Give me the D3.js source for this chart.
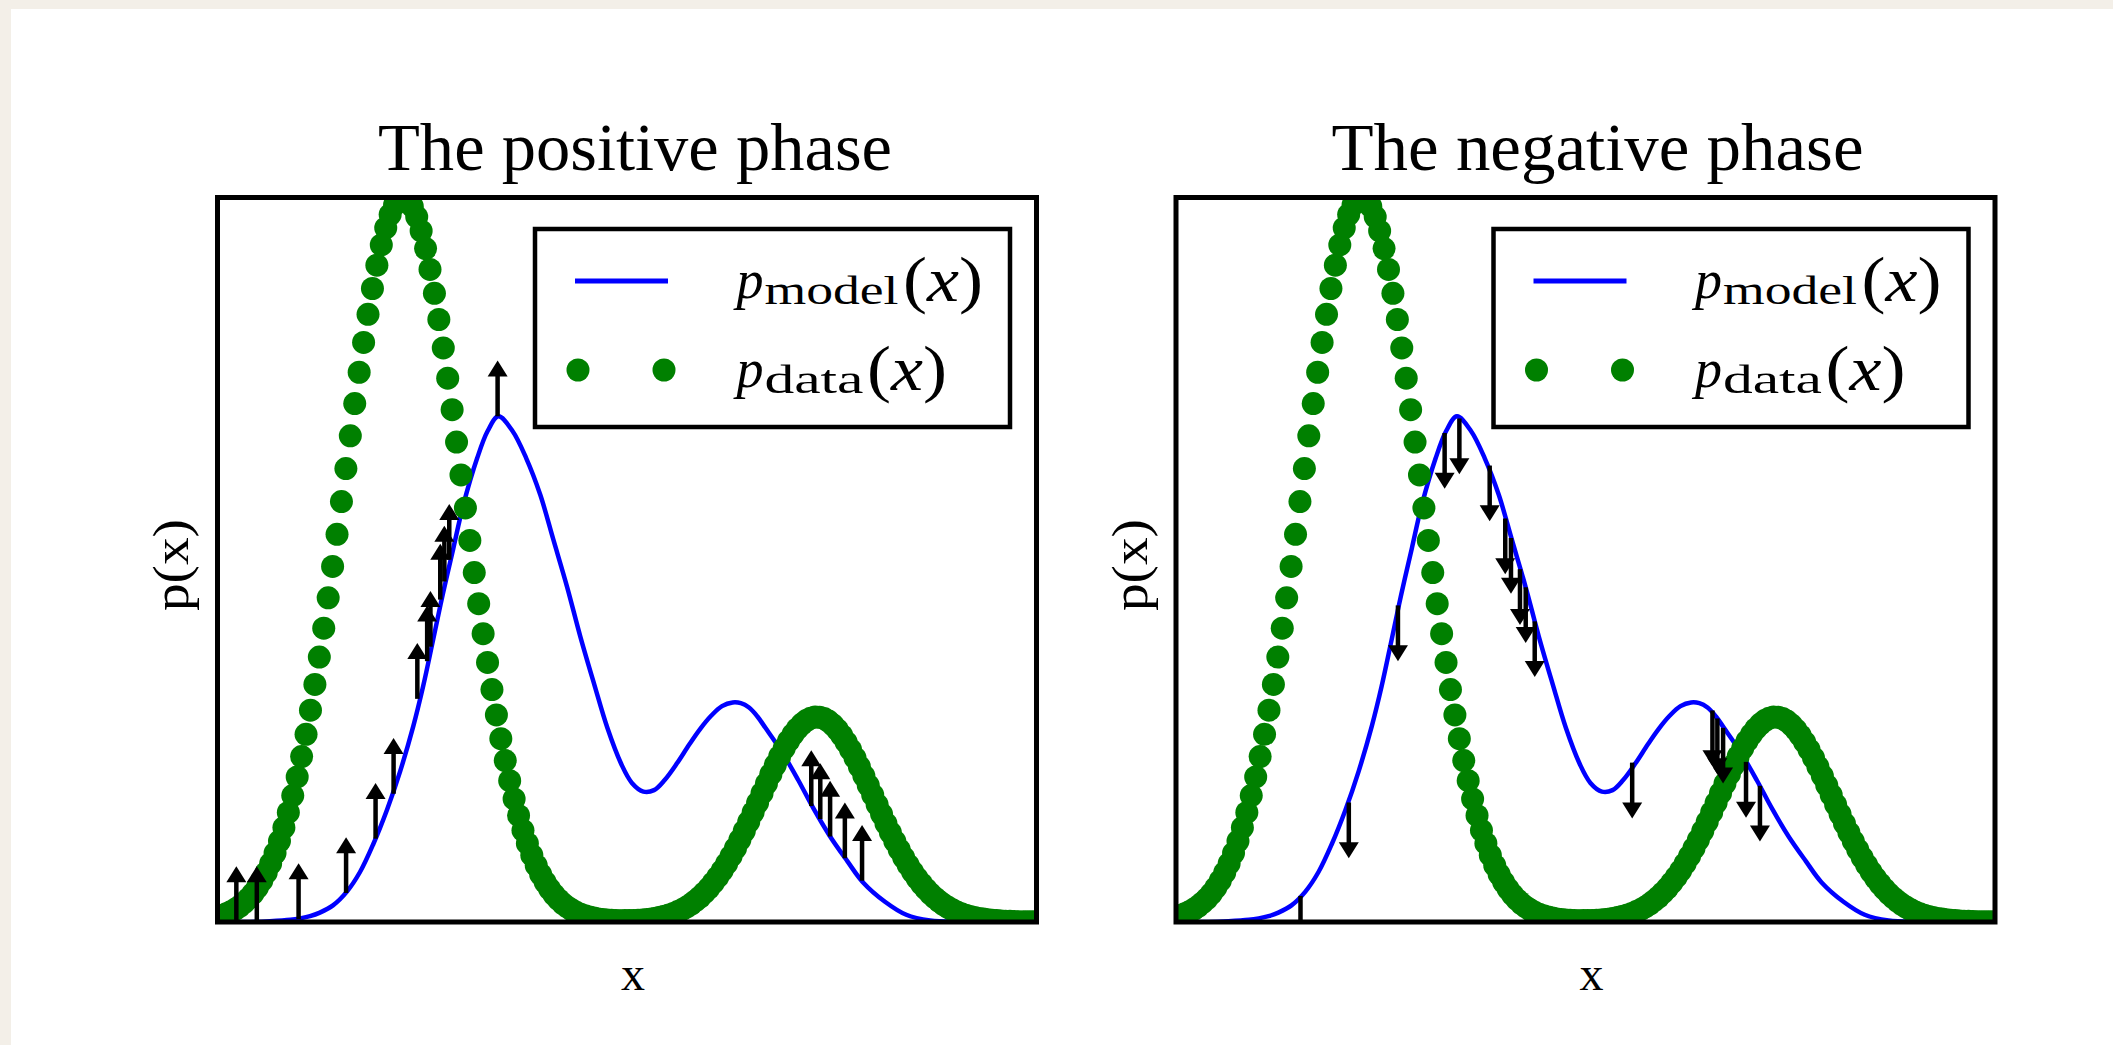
<!DOCTYPE html>
<html><head><meta charset="utf-8">
<script src="https://cdn.jsdelivr.net/npm/d3@7"></script>
<style>
html,body{margin:0;padding:0;background:#f3efe8;}
svg{display:block}
text{font-family:"Liberation Serif","Times New Roman",serif;fill:#000;}
</style></head><body>
<svg id="chart" width="2113" height="1045"></svg>
<script>
// ---------- data ----------
const titles = ["The positive phase", "The negative phase"];
const xLabel = "x";
const yLabel = "p(x)";
const legendSubs = ["model", "data"];
const xMin = 0, xMax = 10;

// p_data(x) sampled on a uniform grid over [xMin, xMax] (green dots)
const pData = [
0.0071,0.0090,0.0113,0.0141,0.0175,0.0216,0.0266,0.0324,0.0393,0.0475,
0.0570,0.0680,0.0807,0.0952,0.1117,0.1304,0.1512,0.1745,0.2002,0.2284,
0.2591,0.2923,0.3279,0.3657,0.4056,0.4474,0.4907,0.5351,0.5803,0.6258,
0.6711,0.7156,0.7588,0.8000,0.8387,0.8744,0.9066,0.9345,0.9580,0.9765,
0.9898,0.9977,1.0000,0.9966,0.9877,0.9734,0.9539,0.9295,0.9007,0.8678,
0.8316,0.7923,0.7506,0.7072,0.6625,0.6171,0.5716,0.5266,0.4823,0.4393,
0.3979,0.3583,0.3209,0.2858,0.2530,0.2228,0.1951,0.1699,0.1471,0.1266,
0.1084,0.0923,0.0781,0.0658,0.0551,0.0458,0.0379,0.0312,0.0255,0.0208,
0.0168,0.0135,0.0108,0.0086,0.0068,0.0054,0.0042,0.0033,0.0028,0.0023,
0.0021,0.0018,0.0019,0.0019,0.0021,0.0024,0.0028,0.0034,0.0042,0.0052,
0.0064,0.0080,0.0098,0.0119,0.0144,0.0174,0.0208,0.0248,0.0294,0.0345,
0.0404,0.0469,0.0542,0.0622,0.0710,0.0805,0.0908,0.1018,0.1134,0.1256,
0.1383,0.1513,0.1645,0.1778,0.1911,0.2041,0.2167,0.2286,0.2398,0.2500,
0.2591,0.2669,0.2732,0.2781,0.2813,0.2829,0.2827,0.2809,0.2773,0.2722,
0.2656,0.2575,0.2482,0.2379,0.2265,0.2144,0.2018,0.1887,0.1754,0.1621,
0.1489,0.1359,0.1234,0.1113,0.0998,0.0889,0.0788,0.0693,0.0607,0.0528,
0.0457,0.0393,0.0335,0.0285,0.0240,0.0202,0.0168,0.0139,0.0115,0.0094,
0.0077,0.0062,0.0050,0.0040,0.0032,0.0025,0.0020,0.0015,0.0012,0.0009,
0.0007,0.0005,0.0004,0.0003,0.0002,0.0002
];

// p_model(x) (blue line)
const modelX = [0,0.40,0.64,0.89,1.01,1.13,1.25,1.41,1.58,1.74,1.90,2.07,2.23,2.39,2.51,2.63,2.75,
  2.88,3.00,3.17,3.30,3.43,3.60,3.77,3.94,4.10,4.27,4.43,4.60,4.76,4.93,5.06,5.20,5.33,5.46,
  5.61,5.76,5.89,6.03,6.16,6.29,6.39,6.49,6.59,6.69,6.89,7.09,7.28,7.48,7.69,7.88,8.15,8.41,8.70,9.07,10];
const pModel = [0,0,0.001,0.003,0.005,0.008,0.013,0.023,0.042,0.069,0.107,0.155,0.208,0.270,0.325,0.388,0.452,
  0.516,0.575,0.640,0.678,0.698,0.678,0.640,0.590,0.528,0.462,0.394,0.328,0.268,0.218,0.192,0.180,0.182,0.196,
  0.219,0.245,0.266,0.285,0.298,0.303,0.302,0.296,0.284,0.268,0.235,0.196,0.156,0.118,0.084,0.055,0.028,0.010,0.002,0,0];

// positive phase: samples from data, pushed up
const posArrowX = [0.23,0.48,0.99,1.57,1.93,2.15,2.44,2.56,2.60,2.72,2.77,2.83,3.42,7.25,7.36,7.48,7.66,7.87];
const posArrowBase = [0,0,0.004,0.040,0.115,0.177,0.308,0.360,0.380,0.445,0.470,0.500,0.698,0.160,0.142,0.118,0.088,0.057];
// negative phase: samples from model, pushed down
const negArrowX = [1.52,2.11,2.71,3.28,3.46,3.83,4.02,4.09,4.20,4.27,4.38,5.57,6.55,6.61,6.68,6.96,7.13];
const negArrowBase = [0.036,0.165,0.437,0.675,0.695,0.630,0.557,0.530,0.487,0.462,0.415,0.220,0.292,0.281,0.268,0.221,0.188];
const arrowLength = 0.077;

// ---------- drawing ----------
const svg = d3.select("#chart");
svg.append("rect").attr("x",11).attr("y",9).attr("width",2102).attr("height",1036).attr("fill","#ffffff");

const W = 819, plotTop = 197.5, plotBottom = 922;
const gridX = d3.range(pData.length).map(i => xMin + i*(xMax-xMin)/(pData.length-1));
const defs = svg.append("defs");
const dotR = 11.5;

const panels = [
  {left:217.5, title:titles[0], titleX:378, titleLen:514, ax:posArrowX, ab:posArrowBase, dir:1, yLabX:188, xLabX:633},
  {left:1176, title:titles[1], titleX:1331.5, titleLen:532, ax:negArrowX, ab:negArrowBase, dir:-1, yLabX:1147, xLabX:1591.5}
];

panels.forEach((p,k) => {
  const x = d3.scaleLinear().domain([xMin,xMax]).range([p.left, p.left+W]);
  const y = d3.scaleLinear().domain([0, d3.max(pData)]).range([plotBottom, plotTop]);
  defs.append("clipPath").attr("id","clip"+k).append("rect")
    .attr("x",p.left).attr("y",plotTop).attr("width",W).attr("height",plotBottom-plotTop);
  const g = svg.append("g");
  const plot = g.append("g").attr("clip-path",`url(#clip${k})`);

  plot.append("path")
    .datum(modelX.map((d,i)=>[d,pModel[i]]))
    .attr("d", d3.line().x(d=>x(d[0])).y(d=>y(d[1])).curve(d3.curveCatmullRom.alpha(0.5)))
    .attr("fill","none").attr("stroke","#0000ff").attr("stroke-width",4.5);

  plot.append("g").selectAll("circle").data(pData).join("circle")
    .attr("cx",(d,i)=>x(gridX[i])).attr("cy",d=>y(d)).attr("r",dotR).attr("fill","#008000");

  const headLen = 16, headHalf = 10;
  const arrows = plot.append("g");
  p.ax.forEach((ax,i) => {
    const xb = x(ax), yb = y(p.ab[i]), yt = y(p.ab[i] + p.dir*arrowLength);
    const s = yt < yb ? 1 : -1;
    const hb = yt + s*headLen;
    arrows.append("line").attr("x1",xb).attr("x2",xb).attr("y1",yb).attr("y2",hb - s)
      .attr("stroke","#000").attr("stroke-width",4.5);
    arrows.append("path").attr("d",`M${xb-headHalf},${hb}L${xb},${yt}L${xb+headHalf},${hb}Z`).attr("fill","#000");
  });

  g.append("rect").attr("x",p.left).attr("y",plotTop).attr("width",W).attr("height",plotBottom-plotTop)
    .attr("fill","none").attr("stroke","#000").attr("stroke-width",5);

  // legend
  const lg = g.append("g").attr("transform",`translate(${p.left},0)`);
  lg.append("rect").attr("x",317.5).attr("y",229).attr("width",475).attr("height",198)
    .attr("fill","#fff").attr("stroke","#000").attr("stroke-width",4.5);
  lg.append("line").attr("x1",357.5).attr("x2",450.5).attr("y1",281).attr("y2",281)
    .attr("stroke","#0000ff").attr("stroke-width",5);
  lg.selectAll("circle.lgd").data([360.5,446.5]).join("circle").attr("class","lgd")
    .attr("cx",d=>d).attr("cy",370).attr("r",dotR).attr("fill","#008000");
  const rows = [{by:298, sub:legendSubs[0], subLen:134, parX:685.5, parY:301},
                {by:387, sub:legendSubs[1], subLen:99, parX:649.5, parY:390}];
  rows.forEach(r => {
    lg.append("text").attr("x",519).attr("y",r.by).attr("font-size",54).attr("font-style","italic").text("p");
    lg.append("text").attr("x",547).attr("y",r.by+6).attr("font-size",40)
      .attr("textLength",r.subLen).attr("lengthAdjust","spacingAndGlyphs").text(r.sub);
    const t = lg.append("text").attr("x",r.parX).attr("y",r.parY).attr("font-size",64)
      .attr("textLength",80).attr("lengthAdjust","spacingAndGlyphs");
    t.append("tspan").text("(");
    t.append("tspan").attr("font-style","italic").text("x");
    t.append("tspan").text(")");
  });

  // titles and axis labels
  svg.append("text").attr("x",p.titleX).attr("y",170).attr("font-size",68)
    .attr("textLength",p.titleLen).attr("lengthAdjust","spacingAndGlyphs").text(p.title);
  svg.append("text").attr("x",p.xLabX).attr("y",990).attr("font-size",48)
    .attr("text-anchor","middle").text(xLabel);
  svg.append("text").attr("transform",`translate(${p.yLabX},565) rotate(-90)`)
    .attr("font-size",50).attr("text-anchor","middle")
    .attr("textLength",92).attr("lengthAdjust","spacingAndGlyphs").text(yLabel);
});
</script>
</body></html>
